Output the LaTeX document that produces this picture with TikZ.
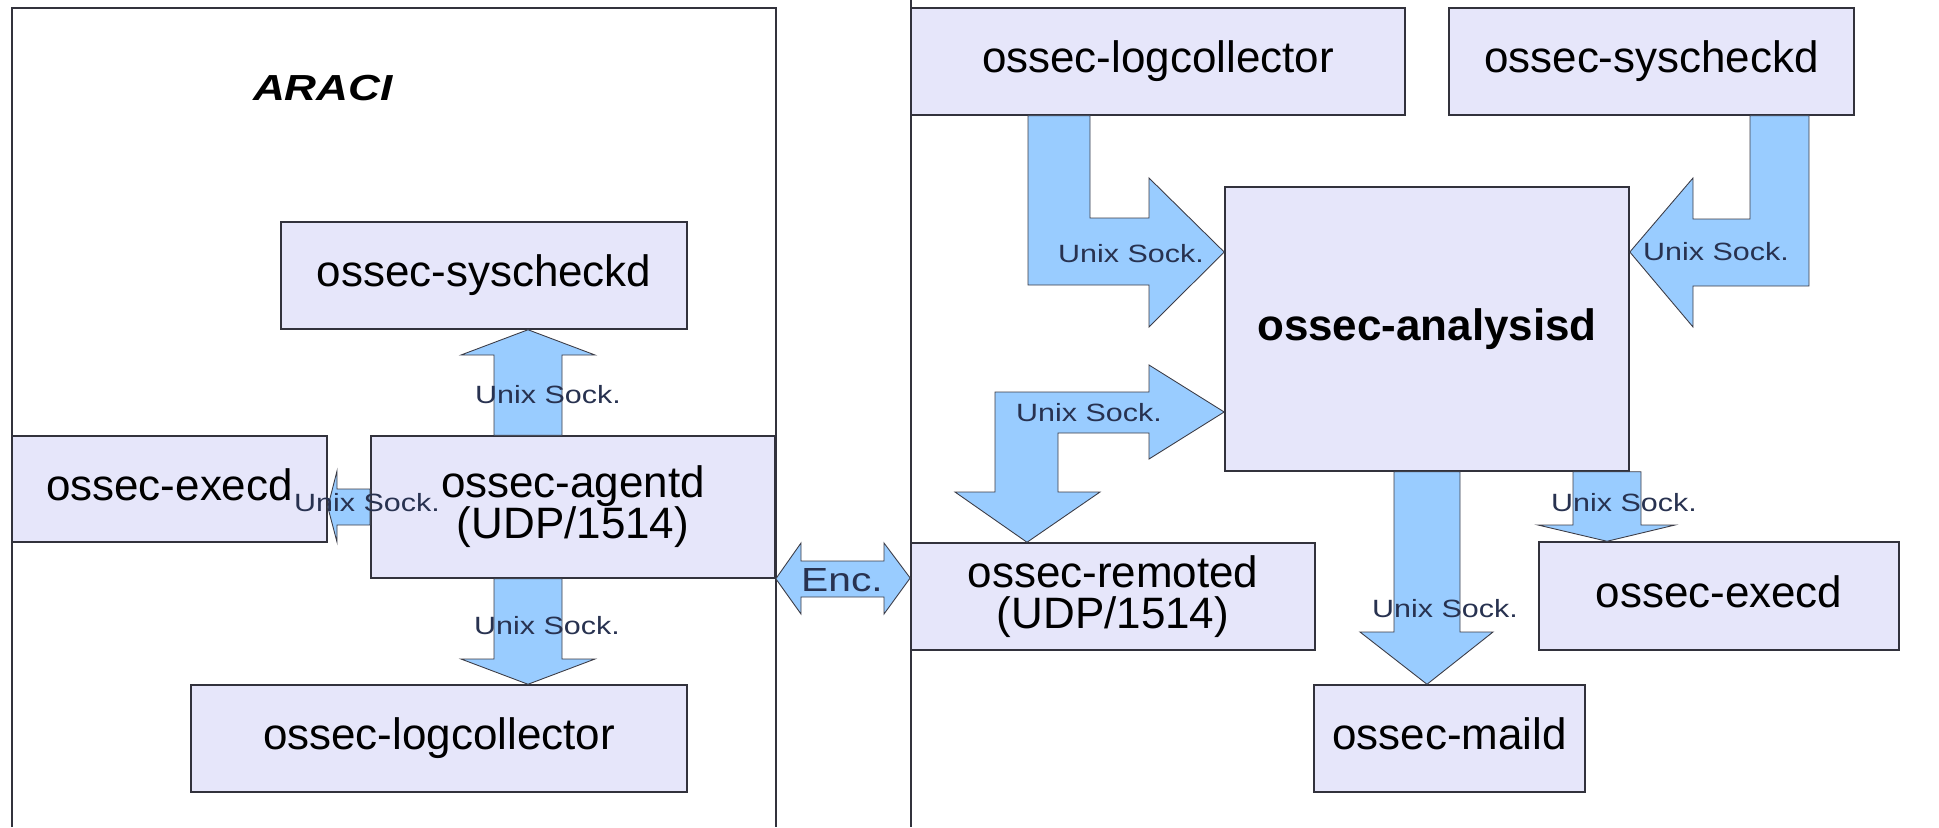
\documentclass[tikz,border=0pt]{standalone}
\usepackage{fontspec}
\setmainfont{Liberation Sans}
\newfontfamily\widefont[FakeStretch=1.22]{Liberation Sans}

\definecolor{boxfill}{RGB}{230,230,250}
\definecolor{boxline}{RGB}{50,50,60}
\definecolor{arrowfill}{RGB}{153,204,255}
\definecolor{arrowline}{RGB}{60,60,70}
\definecolor{sockcol}{RGB}{40,50,80}

\newcommand{\boxfont}{\fontsize{12.5}{11.6}\selectfont\lineskiplimit=-5pt\relax}
\newcommand{\sockfont}{\widefont\fontsize{7.1}{8}\selectfont}

\tikzset{
  procbox/.style={draw=boxline,fill=boxfill,line width=0.4pt,inner sep=0pt,
    minimum width=4.05cm,minimum height=1.07cm,font=\boxfont},
  oneline/.style={text height=9pt,text depth=2.6pt},
  sockarrow/.style={draw=arrowline,fill=arrowfill,line width=0.25pt,line join=miter},
  socklabel/.style={anchor=base,inner sep=0pt,text=sockcol,font=\sockfont},
  frameline/.style={draw=boxline,line width=0.45pt}
}

\begin{document}
\begin{tikzpicture}[x=0.01cm,y=-0.01cm]
	\useasboundingbox (0,0) rectangle (1939,827);
	% frames
	\draw[frameline] (12,827) -- (12,8) -- (776,8) -- (776,827);
	\draw[frameline] (911,0) -- (911,827);
	\node[anchor=base,inner sep=0pt,font=\widefont\fontsize{10.3}{12}\selectfont\bfseries\itshape] (araci) at (323,100) {ARACI};
	% agent side
	\node[procbox,oneline,minimum width=4.06cm] (asys) at (484,275.5) {ossec-syscheckd};
	\node[procbox,oneline,minimum width=3.15cm,minimum height=1.06cm] (aexec) at (169.5,489) {ossec-execd};
	\node[procbox,align=center,minimum width=4.04cm,minimum height=1.42cm] (agentd) at (573,507) {ossec-agentd\\(UDP/1514)};
	\node[procbox,oneline,minimum width=4.96cm] (alog) at (439,738.5) {ossec-logcollector};
	% server side
	\node[procbox,oneline,minimum width=4.94cm] (rlog) at (1158,61.5) {ossec-logcollector};
	\node[procbox,oneline] (rsys) at (1651.5,61.5) {ossec-syscheckd};
	\node[procbox,oneline,minimum width=4.04cm,minimum height=2.84cm,font=\boxfont\bfseries] (anal) at (1427,329) {ossec-analysisd};
	\node[procbox,align=center,minimum width=4.04cm] (remoted) at (1113,596.5) {ossec-remoted\\(UDP/1514)};
	\node[procbox,oneline,minimum width=3.6cm,minimum height=1.08cm] (rexec) at (1719,596) {ossec-execd};
	\node[procbox,oneline,minimum width=2.71cm] (maild) at (1449.5,738.5) {ossec-maild};
	% block arrows, agent side
	\draw[sockarrow] (494,0 |- agentd.north) -- (494,355) -- (461,355) -- (528,0 |- asys.south)
		-- (595,355) -- (562,355) -- (562,0 |- agentd.north) -- cycle;
	\draw[sockarrow] (agentd.west |- 0,489) -- (337,489) -- (337,471) -- (aexec.east |- 0,507)
		-- (337,542) -- (337,525) -- (agentd.west |- 0,525) -- cycle;
	\draw[sockarrow] (494,0 |- agentd.south) -- (494,659) -- (461,659) -- (528,0 |- alog.north)
		-- (595,659) -- (562,659) -- (562,0 |- agentd.south) -- cycle;
	% agentd <-> remoted
	\draw[sockarrow] (agentd.south east) -- (801,543) -- (801,561) -- (884,561) -- (884,543)
		-- (remoted.west |- 0,578) -- (884,614) -- (884,597) -- (801,597) -- (801,614) -- cycle;
	% block arrows, server side
	\draw[sockarrow] (1028,0 |- rlog.south) -- (1090,0 |- rlog.south) -- (1090,218) -- (1149,218)
		-- (1149,178) -- (anal.west |- 0,252) -- (1149,327) -- (1149,285) -- (1028,285) -- cycle;
	\draw[sockarrow] (1809,0 |- rsys.south) -- (1750,0 |- rsys.south) -- (1750,219) -- (1693,219)
		-- (1693,178) -- (anal.east |- 0,252) -- (1693,327) -- (1693,286) -- (1809,286) -- cycle;
	\draw[sockarrow] (995,392) -- (1149,392) -- (1149,365) -- (anal.west |- 0,412) -- (1149,459)
		-- (1149,433) -- (1058,433) -- (1058,492) -- (1100,492) -- (1027,0 |- remoted.north)
		-- (955,492) -- (995,492) -- cycle;
	\draw[sockarrow] (1394,0 |- anal.south) -- (1394,632) -- (1360,632) -- (anal.south |- maild.north)
		-- (1493,632) -- (1460,632) -- (1460,0 |- anal.south) -- cycle;
	\draw[sockarrow] (1573,0 |- anal.south) -- (1573,525) -- (1538,525) -- (1607,0 |- rexec.north)
		-- (1675,525) -- (1641,525) -- (1641,0 |- anal.south) -- cycle;
	% labels
	\node[socklabel] (s1) at (548,403) {Unix Sock.};
	\node[socklabel] (s2) at (367,511) {Unix Sock.};
	\node[socklabel] (s3) at (547,634) {Unix Sock.};
	\node[socklabel] (s4) at (1131,262) {Unix Sock.};
	\node[socklabel] (s5) at (1716,260) {Unix Sock.};
	\node[socklabel] (s6) at (1089,421) {Unix Sock.};
	\node[socklabel] (s7) at (1445,617) {Unix Sock.};
	\node[socklabel] (s8) at (1624,511) {Unix Sock.};
	\node[socklabel,font=\widefont\fontsize{9.5}{11}\selectfont] (enc) at (842,591) {Enc.};
\end{tikzpicture}
\end{document}
